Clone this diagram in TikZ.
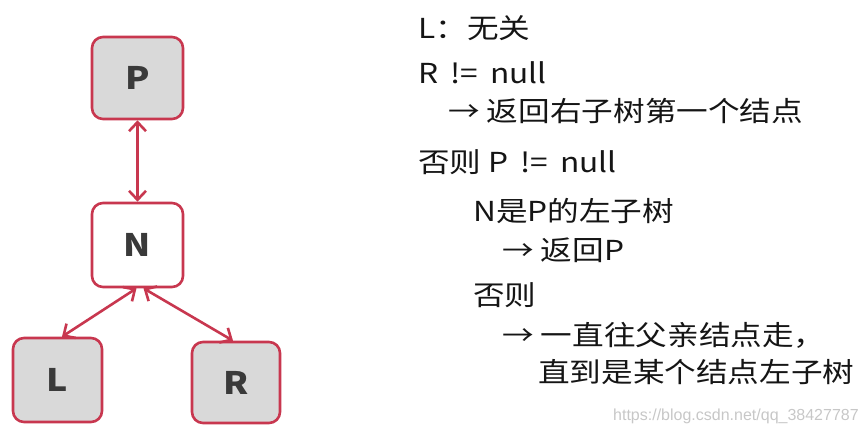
\documentclass[tikz,border=0pt]{standalone}
\usepackage{fontspec}
\usetikzlibrary{arrows.meta}
\newfontfamily\cjk[FakeStretch=1.15]{Noto Sans CJK SC}
\newfontfamily\wmfont{Liberation Sans}
\definecolor{edgered}{HTML}{C8374F}
\definecolor{boxgray}{HTML}{D9D9D9}
\definecolor{lettergray}{HTML}{3A3A3A}
\definecolor{txt}{HTML}{151515}
\newcommand\gp{\hspace{12pt}}
\tikzset{
  treebox/.style={draw=edgered, line width=2.6pt, rounded corners=11pt, inner sep=0pt,
    font=\cjk\bfseries\fontsize{31}{33}\selectfont, text=lettergray},
  graybox/.style={treebox, fill=boxgray},
  whitebox/.style={treebox, fill=white},
  link/.style={draw=edgered, line width=2.6pt, {Straight Barb[length=9pt,width=17pt,line width=2.6pt]}-{Straight Barb[length=9pt,width=17pt,line width=2.6pt]}},
  note/.style={anchor=base west, inner sep=0pt, text=txt, font=\cjk\fontsize{27.5}{30}\selectfont},
  wmark/.style={anchor=base west, inner sep=0pt, text=black!22, font=\wmfont\fontsize{16}{18}\selectfont}
}
\begin{document}
\begin{tikzpicture}[x=1pt,y=-1pt]
\useasboundingbox (0,0) rectangle (865,434);
\node[graybox, minimum width=91pt, minimum height=82pt] (P) at (137.5,78) {P};
\node[whitebox, minimum width=91pt, minimum height=84pt] (N) at (137.5,245) {N};
\node[graybox, minimum width=89pt, minimum height=84pt] (L) at (57.5,380) {L};
\node[graybox, minimum width=88pt, minimum height=81pt] (R) at (236,382.5) {R};
\coordinate (nl) at ([xshift=-1pt]N.south);
\coordinate (nr) at ([xshift=6pt]N.south);
\coordinate (lt) at ([xshift=4.5pt]L.north);
\coordinate (rt) at ([xshift=-3pt]R.north);
\draw[link] (P) -- (N);
\draw[link] (nl) -- (lt);
\draw[link] (nr) -- (rt);
\node[note] (t1) at (418,38) {L：无关};
\node[note] (t2) at (418,83) {R\gp!=\gp null};
\node[note] (t3) at (448,121) {→ 返回右子树第一个结点};
\node[note] (t4) at (418,172) {否则 P\gp!=\gp null};
\node[note] (t5) at (473,221) {N是P的左子树};
\node[note] (t6) at (502,260) {→ 返回P};
\node[note] (t7) at (473,305) {否则};
\node[note] (t8) at (502,345) {→ 一直往父亲结点走，};
\node[note] (t9) at (538,382) {直到是某个结点左子树};
\node[wmark] (wm) at (613,420) {https://blog.csdn.net/qq\_38427787};
\end{tikzpicture}
\end{document}
